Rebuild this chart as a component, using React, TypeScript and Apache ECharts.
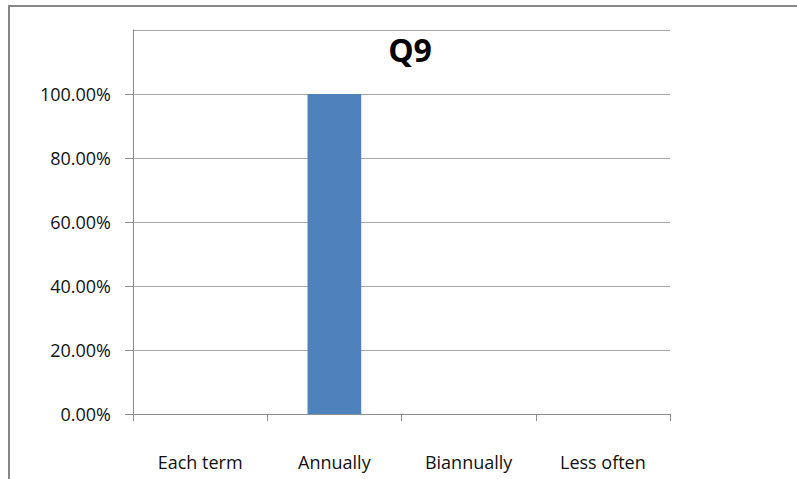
import React, { useEffect, useRef } from "react";
import * as echarts from "echarts";

const categories = ["Each term", "Annually", "Biannually", "Less often"];
const values = [0, 1, 0, 0];
const titleText = "Q9";

export default function App() {
  const ref = useRef<HTMLDivElement>(null);
  useEffect(() => {
    const chart = echarts.init(ref.current!, null, { renderer: "svg" });
    const font = "'Open Sans', 'Liberation Sans', sans-serif";
    chart.setOption({
      animation: false,
      backgroundColor: "#ffffff",
      graphic: [
        {
          type: "rect",
          shape: { x: 9, y: 6, width: 820, height: 520 },
          style: { fill: "none", stroke: "#878787", lineWidth: 2 },
        },
        {
          type: "text",
          x: 410,
          y: 49,
          style: {
            text: titleText,
            align: "center",
            verticalAlign: "middle",
            fontFamily: font,
            fontSize: 32,
            fontWeight: "bold",
            fill: "#000",
          },
        },
      ],
      grid: { left: 133, right: 127, top: 30, bottom: 65 },
      xAxis: {
        type: "category",
        data: categories,
        axisLine: { lineStyle: { color: "#8c8c8c", width: 1 } },
        axisTick: { show: true, length: 7, lineStyle: { color: "#8c8c8c" } },
        axisLabel: { margin: 39, fontFamily: font, fontSize: 18, color: "#111" },
      },
      yAxis: {
        type: "value",
        min: 0,
        max: 1.2,
        interval: 0.2,
        axisLine: { show: true, lineStyle: { color: "#8c8c8c", width: 1 } },
        axisTick: { show: true, length: 8, lineStyle: { color: "#8c8c8c" } },
        splitLine: { lineStyle: { color: "#a6a6a6", width: 1 } },
        axisLabel: {
          showMaxLabel: false,
          margin: 22,
          fontFamily: font,
          fontSize: 18,
          color: "#111",
          formatter: (v: number) => (v * 100).toFixed(2) + "%",
        },
      },
      series: [
        {
          type: "bar",
          data: values,
          barWidth: "40%",
          itemStyle: { color: "#4F81BD" },
        },
      ],
    });
    return () => chart.dispose();
  }, []);
  return (
    <div
      ref={ref}
      style={{ position: "fixed", left: 0, top: 0, width: 797, height: 479 }}
    />
  );
}
